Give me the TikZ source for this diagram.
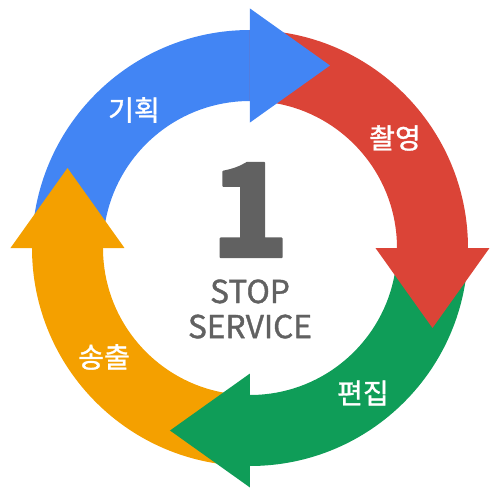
\documentclass[tikz,border=0pt]{standalone}
\usepackage{fontspec}
\setmainfont{Noto Sans CJK KR}
\newfontfamily\mediumfont[FakeBold=1.2]{Noto Sans CJK KR}
\newfontfamily\heavyfont[BoldFeatures={FakeBold=1.5}]{Noto Sans CJK KR}
\definecolor{gblue}{HTML}{4285F4}
\definecolor{gred}{HTML}{DB4437}
\definecolor{ggreen}{HTML}{0F9D58}
\definecolor{gorange}{HTML}{F4A000}
\definecolor{ggray}{HTML}{616161}
\begin{document}
\begin{tikzpicture}[x=0.02cm,y=0.02cm,line join=round]
	\tikzset{step label/.style={text=white,font=\mediumfont\fontsize{16}{16}\selectfont}}
	\useasboundingbox (-250,-253) rectangle (251,248);
	% bands first, then the heads over the next band
	\foreach \r/\c in {0/gblue,-90/gred,-180/ggreen,-270/gorange}
		\fill[\c,rotate=\r] (180:218) arc[start angle=180,end angle=90,radius=218] -- (90:147) arc[start angle=90,end angle=180,radius=147] -- cycle;
	\foreach \r/\c in {0/gblue,-90/gred,-180/ggreen,-270/gorange}
		\fill[\c,rotate=\r] (0,125.5) -- (80,182.5) -- (0,239.5) -- cycle;
	\node[step label] (plan) at (-116,138) {기획};
	\node[step label] (shoot) at (145,110) {촬영};
	\node[step label] (edit) at (113,-145) {편집};
	\node[step label] (send) at (-146,-109) {송출};
	\node[text=ggray,font=\heavyfont\bfseries\fontsize{74}{74}\selectfont] (one) at (0,38) {1};
	\node[text=ggray,font=\mediumfont\fontsize{18}{18}\selectfont,align=center] (stop) at (0,-61) {STOP\\[2pt]SERVICE};
\end{tikzpicture}
\end{document}
